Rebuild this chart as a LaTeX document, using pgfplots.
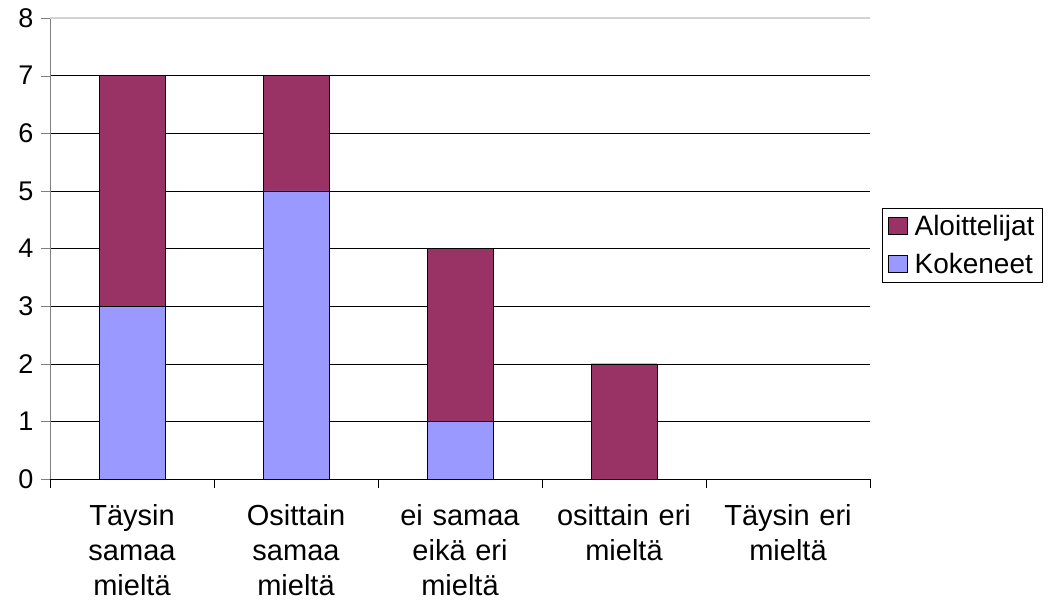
\documentclass[border=0pt]{standalone}
\usepackage{fontspec}
\setmainfont{Liberation Sans}
\usepackage{pgfplots}
\pgfplotsset{compat=1.18}
\definecolor{aloit}{RGB}{153,51,102}
\definecolor{koke}{RGB}{153,153,255}
\begin{document}
\begin{tikzpicture}
\path[use as bounding box] (0pt,0pt) rectangle (1049pt,605pt);
\begin{axis}[
    at={(50pt,126pt)}, anchor=south west,
    scale only axis, width=820pt, height=461pt,
    ybar stacked, bar width=66pt,
    xmin=-0.5, xmax=4.5, ymin=0, ymax=8,
    axis x line*=bottom, axis y line*=left,
    axis line style={-},
    x axis line style={black},
    y axis line style={gray},
    tick align=outside,
    xtick={0,...,4},
    xticklabels={{Täysin\\samaa\\mieltä},{Osittain\\samaa\\mieltä},{ei samaa\\eikä eri\\mieltä},{osittain eri\\mieltä},{Täysin eri\\mieltä}},
    major x tick style={draw=none},
    major tick length=9pt,
    minor xtick={-0.5,0.5,...,4.5},
    minor tick length=9pt,
    minor x tick style={black},
    x tick label style={align=center, text width=170pt, yshift=-13pt,
        font=\fontsize{29}{35}\selectfont},
    ytick={0,...,8},
    y tick style={gray},
    y tick label style={font=\fontsize{27}{30}\selectfont, xshift=-4pt},
    /pgf/number format/assume math mode=true,
    ymajorgrids, grid style={black},
    reverse legend,
    legend cell align=left,
    legend style={at={(axis description cs:1.0146,0.588)}, anchor=north west,
        draw=black, font=\fontsize{28}{32}\selectfont, inner xsep=6pt, inner ysep=5pt,
        row sep=12pt, /tikz/every odd column/.append style={column sep=5pt}},
    legend image code/.code={\draw[#1,draw=black] (0pt,-8pt) rectangle (19pt,9pt);},
]
\addplot[fill=koke, draw=black] coordinates {(0,3) (1,5) (2,1) (3,0) (4,0)};
\addlegendentry{Kokeneet}
\addplot[fill=aloit, draw=black] coordinates {(0,4) (1,2) (2,3) (3,2) (4,0)};
\addlegendentry{Aloittelijat}
\draw[gray!35, line width=1.5pt] (axis cs:-0.5,8) -- (axis cs:4.5,8);
\end{axis}
\end{tikzpicture}
\end{document}
